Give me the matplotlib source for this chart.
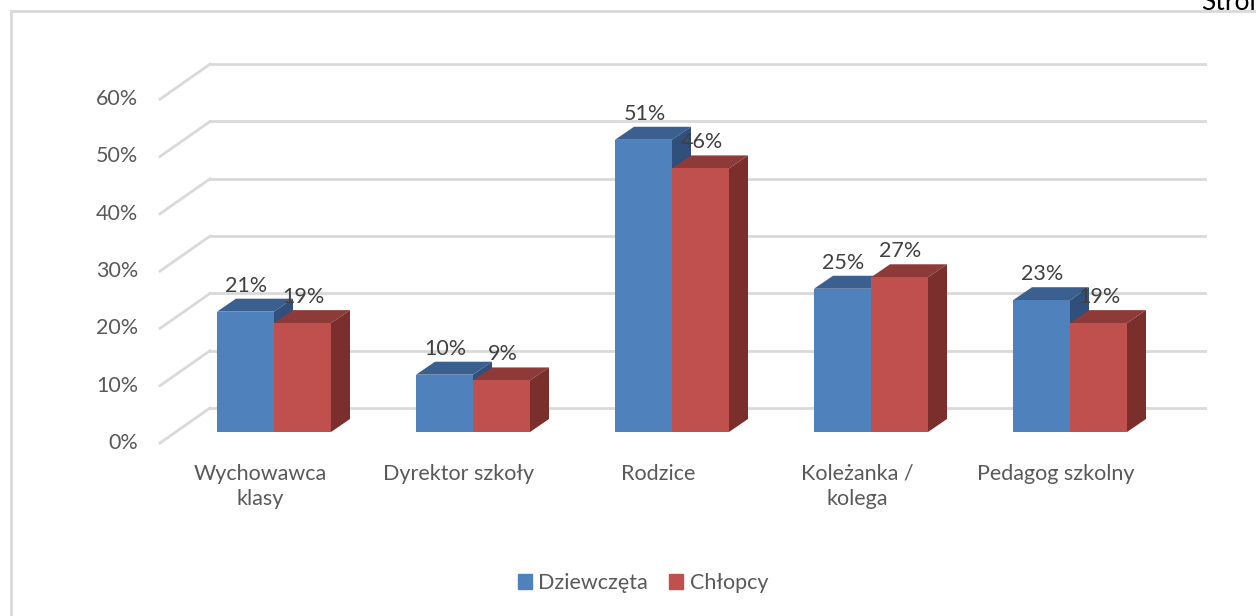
import matplotlib
matplotlib.use("Agg")
import matplotlib.pyplot as plt
from matplotlib.patches import Polygon, Rectangle

categories = ["Wychowawca\nklasy", "Dyrektor szkoły", "Rodzice", "Koleżanka /\nkolega", "Pedagog szkolny"]
dziewczeta = [21, 10, 51, 25, 23]
chlopcy = [19, 9, 46, 27, 19]
series_names = ["Dziewczęta", "Chłopcy"]
yticks = [0, 10, 20, 30, 40, 50, 60]

W, H = 1256, 616
fig = plt.figure(figsize=(W / 100, H / 100), dpi=100)
ax = fig.add_axes([0, 0, 1, 1])
# pixel mapping: category spacing 199px, 5.73px per percent, bar baseline at y=432px
px_x = 199.0
px_y = 5.73
x0 = 274.0
y0 = H - 432.0
ax.set_xlim(-x0 / px_x, (W - x0) / px_x)
ax.set_ylim(-y0 / px_y, (H - y0) / px_y)
ax.axis("off")

def dx(p):
    return p / px_x

def dy(p):
    return p / px_y

font = "Lato"
fs = 15.5
grid_c = "#d9d9d9"
text_c = "#595959"

# depth offsets
bar_dx, bar_dy = dx(19), dy(13)
back_dx, back_dy = dx(34), dy(24)
front_dx, front_dy = dx(-16), dy(-11)
left = dx(210 - 34 - x0)
right = dx(1205 - 34 - x0)

for t in yticks:
    ax.plot([left + back_dx, right + back_dx], [t + back_dy, t + back_dy], color=grid_c, lw=2, zorder=1)
    ax.plot([left + front_dx, left + back_dx], [t + front_dy, t + back_dy], color=grid_c, lw=2, zorder=1)
    ax.text(left + front_dx - dx(22), t + front_dy, f"{t}%", ha="right", va="center",
            fontsize=fs, color=text_c, family=font)

bw = 57 / px_x
colors = [("#4f81bd", "#3b6090", "#30507b"), ("#c0504d", "#8e3a38", "#7b2f2d")]
series = [dziewczeta, chlopcy]
for i in range(len(categories)):
    for s in range(2):
        v = series[s][i]
        xl = i - bw if s == 0 else i
        xr = xl + bw
        front, top, side = colors[s]
        ax.bar(xl, v, width=bw, align="edge", color=front, zorder=3 + i * 3 + s)
        ax.add_patch(Polygon([(xl, v), (xr, v), (xr + bar_dx, v + bar_dy), (xl + bar_dx, v + bar_dy)],
                             closed=True, facecolor=top, edgecolor="none", zorder=2 + i * 3 + s))
        ax.add_patch(Polygon([(xr, 0), (xr, v), (xr + bar_dx, v + bar_dy), (xr + bar_dx, bar_dy)],
                             closed=True, facecolor=side, edgecolor="none", zorder=2 + i * 3 + s))
        ax.text((xl + xr) / 2 + dx(1), v + dy(26), f"{v}%", ha="center", va="center",
                fontsize=fs, color="#404040", family=font, zorder=30)
    ax.text(i - dx(14), dy(-32), categories[i], ha="center", va="top", fontsize=fs,
            color=text_c, family=font, linespacing=1.3, multialignment="center")

# frame
fig.patches.append(Rectangle((11 / W, -0.1), 1.2, 1 - 11 / H + 0.1, transform=fig.transFigure,
                             fill=False, edgecolor="#d9d9d9", lw=2))
fig.text(1201 / W, 1 - 10 / H, "Strona", ha="left", va="baseline", fontsize=19, color="black", family=font)

handles = [Rectangle((0, 0), 1, 1, color=colors[0][0]), Rectangle((0, 0), 1, 1, color=colors[1][0])]
fig.legend(handles, series_names, loc="center", bbox_to_anchor=(643 / W, 1 - 583 / H), ncol=2,
           frameon=False, prop={"family": font, "size": fs}, labelcolor=text_c,
           handlelength=0.65, handleheight=0.65, handletextpad=0.3, columnspacing=1.0)

fig.savefig("out.png", dpi=100)
